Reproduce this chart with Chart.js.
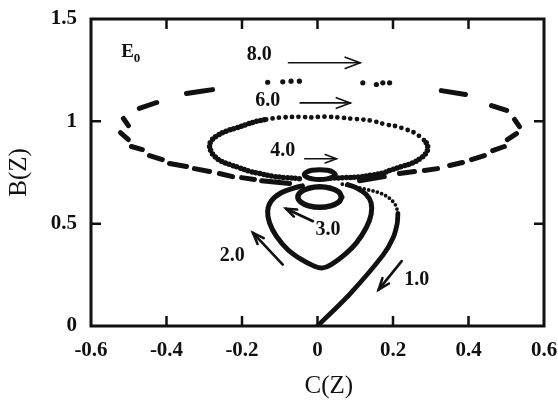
<!DOCTYPE html>
<html>
<head>
<meta charset="utf-8">
<script src="https://cdn.jsdelivr.net/npm/chart.js@4/dist/chart.umd.min.js"></script>
<style>
  html, body { margin: 0; padding: 0; background: #fff; }
  #wrap { width: 558px; height: 401px; position: relative; }
</style>
</head>
<body>
<div id="wrap"><canvas id="c"></canvas></div>
<script>
var INK = '#111';
var SERIF = '"Liberation Serif", "Times New Roman", serif';

var xTicks = [-0.6, -0.4, -0.2, 0, 0.2, 0.4, 0.6];
var yTicks = [0, 0.5, 1, 1.5];

// branch towards the origin (t ~ 1.0), solid lower part and dotted upper part
var branchX = [0.0, 0.085, 0.173, 0.200, 0.211, 0.213];
var branchY = [0.0, 0.155, 0.345, 0.430, 0.500, 0.550];
var branchDotX = [0.213, 0.207, 0.190, 0.165, 0.130, 0.090, 0.060];
var branchDotY = [0.550, 0.590, 0.625, 0.650, 0.667, 0.683, 0.695];

// heart shaped loop (t ~ 2.0)
var heartX = [0.080, 0.103, 0.129, 0.142, 0.142, 0.129, 0.103, 0.072, 0.036, 0.014, -0.008, -0.043, -0.079, -0.109, -0.127, -0.132, -0.123, -0.096, -0.061, -0.040];
var heartY = [0.691, 0.675, 0.642, 0.602, 0.545, 0.480, 0.406, 0.349, 0.300, 0.284, 0.292, 0.325, 0.374, 0.439, 0.504, 0.561, 0.610, 0.651, 0.675, 0.685];

// small rings (t ~ 3.0)
var ringLowX = [0.064, 0.056, 0.035, 0.006, -0.023, -0.044, -0.052, -0.044, -0.023, 0.006, 0.035, 0.056, 0.064];
var ringLowY = [0.630, 0.655, 0.673, 0.680, 0.673, 0.655, 0.630, 0.605, 0.587, 0.580, 0.587, 0.605, 0.630];
var ringTopX = [0.047, 0.041, 0.026, 0.006, -0.014, -0.029, -0.035, -0.029, -0.014, 0.006, 0.026, 0.041, 0.047];
var ringTopY = [0.740, 0.752, 0.761, 0.764, 0.761, 0.752, 0.740, 0.728, 0.719, 0.716, 0.719, 0.728, 0.740];

// dotted orbit (t ~ 4.0)
var orbit4X = [-0.048, -0.085, -0.119, -0.154, -0.180, -0.207, -0.233, -0.255, -0.273, -0.282, -0.286, -0.282, -0.268, -0.242, -0.215, -0.189, -0.162,
  -0.136, -0.119, -0.093, -0.048, -0.013, 0.005, 0.032, 0.067, 0.094, 0.120, 0.151, 0.182, 0.208, 0.235, 0.257,
  0.275, 0.288, 0.292, 0.288, 0.275, 0.252, 0.225, 0.199, 0.173, 0.142, 0.111, 0.072, 0.030];
var orbit4Y = [0.720, 0.725, 0.732, 0.745, 0.756, 0.773, 0.789, 0.805, 0.830, 0.854, 0.878, 0.903, 0.927, 0.952, 0.968, 0.984, 1.000,
  1.009, 1.014, 1.019, 1.022, 1.019, 1.022, 1.022, 1.017, 1.012, 1.009, 1.000, 0.984, 0.976, 0.960, 0.944,
  0.919, 0.895, 0.871, 0.846, 0.822, 0.797, 0.781, 0.765, 0.748, 0.737, 0.729, 0.725, 0.722];

// dashed outer orbit (t ~ 6.0 - 8.0), null = gap between dashes
var outerX = [-0.347, -0.312, -0.278, null, -0.472, -0.426, null, -0.514, -0.501, null, -0.522, -0.501, null,
  -0.493, -0.464, null, -0.445, -0.411, null, -0.392, -0.347, null, -0.326, -0.286, null, -0.260, -0.225, null,
  -0.201, -0.167, null, -0.148, -0.074, null, 0.111, 0.177, null, 0.217, 0.257, null, 0.283, 0.318, null,
  0.350, 0.384, null, 0.408, 0.442, null, 0.464, 0.495, null, 0.503, 0.527, null, 0.535, 0.522, null,
  0.501, 0.461, null, 0.392, 0.328];
var outerY = [1.136, 1.146, 1.155, null, 1.063, 1.092, null, 1.014, 0.979, null, 0.945, 0.911, null,
  0.877, 0.862, null, 0.833, 0.813, null, 0.794, 0.779, null, 0.769, 0.755, null, 0.745, 0.730, null,
  0.725, 0.716, null, 0.710, 0.696, null, 0.710, 0.730, null, 0.745, 0.755, null, 0.760, 0.769, null,
  0.784, 0.799, null, 0.813, 0.833, null, 0.857, 0.877, null, 0.911, 0.940, null, 0.974, 1.009, null,
  1.053, 1.077, null, 1.131, 1.150];
var outerDotX = [-0.132, -0.092, -0.070, -0.048, 0.120, 0.156, 0.173, 0.191];
var outerDotY = [1.191, 1.193, 1.196, 1.196, 1.188, 1.180, 1.188, 1.188];

// time labels and arrows
var notes = [
  { t: '8.0', x: -0.154, y: 1.326 },
  { t: '6.0', x: -0.132, y: 1.098 },
  { t: '4.0', x: -0.092, y: 0.858 },
  { t: '3.0', x: 0.028, y: 0.471 },
  { t: '2.0', x: -0.226, y: 0.341 },
  { t: '1.0', x: 0.263, y: 0.227 }
];
var arrows = [
  { from: [-0.077, 1.286], to: [0.113, 1.286], w: 1.6, head: 16 },
  { from: [-0.046, 1.090], to: [0.087, 1.090], w: 1.6, head: 15 },
  { from: [-0.034, 0.817], to: [0.050, 0.817], w: 1.6, head: 12 },
  { from: [-0.012, 0.512], to: [-0.083, 0.573], w: 2.6, head: 11 },
  { from: [-0.092, 0.300], to: [-0.171, 0.455], w: 2.6, head: 12 },
  { from: [0.223, 0.317], to: [0.162, 0.178], w: 2.6, head: 12 }
];

function pts(xs, ys) {
  return xs.map(function(x, i) { return { x: x, y: ys[i] }; });
}

function lineSet(xs, ys, width, extra) {
  var ds = {
    data: pts(xs, ys),
    showLine: true,
    borderColor: INK,
    backgroundColor: INK,
    borderWidth: width,
    pointRadius: 0,
    tension: 0.35,
    borderCapStyle: 'round',
    borderJoinStyle: 'round',
    fill: false
  };
  for (var k in extra) ds[k] = extra[k];
  return ds;
}

function drawArrow(ctx, x1, y1, x2, y2, w, head) {
  var ang = Math.atan2(y2 - y1, x2 - x1);
  var spread = 0.36;
  ctx.lineWidth = w;
  ctx.beginPath();
  ctx.moveTo(x1, y1);
  ctx.lineTo(x2, y2);
  ctx.stroke();
  ctx.beginPath();
  ctx.moveTo(x2 - head * Math.cos(ang - spread), y2 - head * Math.sin(ang - spread));
  ctx.lineTo(x2, y2);
  ctx.lineTo(x2 - head * Math.cos(ang + spread), y2 - head * Math.sin(ang + spread));
  ctx.stroke();
}

var overlay = {
  id: 'overlay',
  afterDatasetsDraw: function(chart) {
    var ctx = chart.ctx, a = chart.chartArea;
    var sx = chart.scales.x, sy = chart.scales.y;
    ctx.save();
    ctx.strokeStyle = INK;
    ctx.fillStyle = INK;
    ctx.lineCap = 'butt';

    // frame
    ctx.lineWidth = 3;
    ctx.strokeRect(a.left, a.top, a.right - a.left, a.bottom - a.top);

    // inward ticks on all four sides
    ctx.lineWidth = 2.5;
    ctx.beginPath();
    xTicks.forEach(function(v) {
      if (v <= xTicks[0] || v >= xTicks[xTicks.length - 1]) return;
      var px = sx.getPixelForValue(v);
      ctx.moveTo(px, a.bottom); ctx.lineTo(px, a.bottom - 10);
      ctx.moveTo(px, a.top); ctx.lineTo(px, a.top + 10);
    });
    yTicks.forEach(function(v) {
      if (v <= yTicks[0] || v >= yTicks[yTicks.length - 1]) return;
      var py = sy.getPixelForValue(v);
      ctx.moveTo(a.left, py); ctx.lineTo(a.left + 10, py);
      ctx.moveTo(a.right, py); ctx.lineTo(a.right - 10, py);
    });
    ctx.stroke();

    // arrows
    ctx.lineCap = 'round';
    ctx.lineJoin = 'miter';
    arrows.forEach(function(ar) {
      drawArrow(ctx,
        sx.getPixelForValue(ar.from[0]), sy.getPixelForValue(ar.from[1]),
        sx.getPixelForValue(ar.to[0]), sy.getPixelForValue(ar.to[1]),
        ar.w, ar.head);
    });

    // time labels
    ctx.textAlign = 'center';
    ctx.textBaseline = 'middle';
    ctx.font = 'bold 20px ' + SERIF;
    notes.forEach(function(n) {
      ctx.fillText(n.t, sx.getPixelForValue(n.x), sy.getPixelForValue(n.y));
    });

    // E0
    ctx.font = 'bold 19px ' + SERIF;
    ctx.fillText('E', sx.getPixelForValue(-0.503), sy.getPixelForValue(1.338));
    ctx.font = 'bold 13px ' + SERIF;
    ctx.fillText('0', sx.getPixelForValue(-0.478), sy.getPixelForValue(1.305));

    // axis titles
    ctx.font = '25px ' + SERIF;
    ctx.fillText('C(Z)', sx.getPixelForValue(0.03), a.bottom + 60);
    ctx.save();
    ctx.translate(19, (a.top + a.bottom) / 2);
    ctx.rotate(-Math.PI / 2);
    ctx.fillText('B(Z)', 0, 0);
    ctx.restore();

    ctx.restore();
  }
};

var tickFont = { family: SERIF, size: 21, weight: 'bold' };

new Chart(document.getElementById('c'), {
  type: 'scatter',
  data: {
    datasets: [
      lineSet(outerX, outerY, 5, { tension: 0, spanGaps: false }),
      { data: pts(outerDotX, outerDotY), pointRadius: 2.6, pointBackgroundColor: INK, pointBorderWidth: 0, showLine: false },
      lineSet(orbit4X, orbit4Y, 5.5, {
        tension: 0.4,
        borderDash: [0, 4],
        segment: {
          borderDash: function(c) { var i = c.p0DataIndex; return (i <= 16 || i >= 33) ? [0, 4] : [0, 6.5]; },
          borderWidth: function(c) { var i = c.p0DataIndex; return (i <= 16 || i >= 33) ? 5.5 : 4.8; }
        }
      }),
      lineSet(branchDotX, branchDotY, 3.8, { borderDash: [0, 4.5] }),
      lineSet(branchX, branchY, 4.8, { tension: 0.25 }),
      lineSet(heartX, heartY, 5),
      lineSet(ringLowX, ringLowY, 5.5, { tension: 0.45 }),
      lineSet(ringTopX, ringTopY, 5, { tension: 0.45 })
    ]
  },
  options: {
    responsive: true,
    maintainAspectRatio: false,
    animation: false,
    layout: { padding: { left: 0, right: 14, top: 19, bottom: 0 } },
    plugins: { legend: { display: false }, tooltip: { enabled: false } },
    scales: {
      x: {
        type: 'linear',
        min: -0.6, max: 0.6,
        afterBuildTicks: function(s) { s.ticks = xTicks.map(function(v) { return { value: v }; }); },
        afterFit: function(s) { s.height = 75; s.paddingLeft = 0; s.paddingRight = 0; },
        grid: { display: false, drawTicks: false },
        border: { display: false },
        ticks: {
          color: INK, font: tickFont, padding: 12, maxRotation: 0, autoSkip: false,
          callback: function(v) { return String(Math.round(v * 10) / 10); }
        }
      },
      y: {
        type: 'linear',
        min: 0, max: 1.5,
        afterBuildTicks: function(s) { s.ticks = yTicks.map(function(v) { return { value: v }; }); },
        afterFit: function(s) { s.width = 91; s.paddingTop = 0; s.paddingBottom = 0; },
        grid: { display: false, drawTicks: false },
        border: { display: false },
        ticks: {
          color: INK, font: tickFont, padding: 14, autoSkip: false,
          callback: function(v) { return String(Math.round(v * 10) / 10); }
        }
      }
    }
  },
  plugins: [overlay]
});
</script>
</body>
</html>
